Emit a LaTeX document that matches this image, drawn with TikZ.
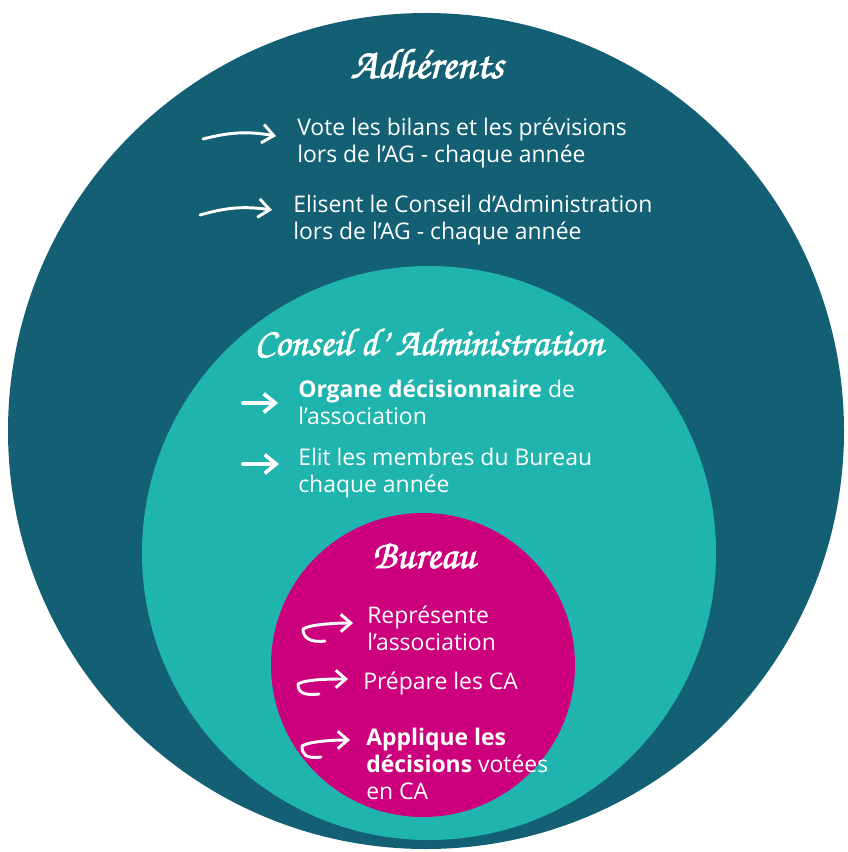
\documentclass[tikz,border=0pt]{standalone}
\usepackage{fontspec}
\setmainfont{Open Sans}
\newfontfamily\titlefont[FakeBold=2]{texgyrechorus-mediumitalic.otf}
\usepackage{tikz}
\usetikzlibrary{arrows.meta,positioning}
\definecolor{adhblue}{RGB}{19,96,116}
\definecolor{cateal}{RGB}{32,180,174}
\definecolor{burpink}{RGB}{204,0,124}

\begin{document}
\begin{tikzpicture}[x=0.75pt, y={(0pt,-0.75pt)},
    ring/.style={circle, inner sep=0pt},
    title/.style={anchor=base, text=white, font=\titlefont\fontsize{32}{36}\selectfont},
    item/.style={anchor=north west, inner sep=0pt, align=left, text=white,
      font=\fontsize{17.2}{20}\selectfont},
    longarr/.style={draw=white, line width=2.2pt, line cap=round, line join=round,
      -{Straight Barb[length=8.5pt,width=14pt]}},
    shortarr/.style={longarr, line width=2.8pt},
    hookarr/.style={longarr, -{Straight Barb[length=7.5pt,width=13pt]}}]
   \useasboundingbox (0,0) rectangle (848,852);
   % the three circles
   \node[ring, fill=adhblue, minimum size=627pt] (adh) at (426,431) {};
   \node[ring, fill=cateal, minimum size=430.5pt] (ca) at (429,553) {};
   \node[ring, fill=burpink, minimum size=228pt] (bur) at (423,665) {};

   % titles
   \node[title] (tadh) at (427,78) {Adhérents};
   \node[title, font=\titlefont\fontsize{29}{34}\selectfont] (tca) at (429,355) {Conseil d’ Administration};
   \node[title, font=\titlefont\fontsize{30}{34}\selectfont] (tbur) at (424,568) {Bureau};

   % Adherents
   \node[item] (a1) at (297,118) {Vote les bilans et les prévisions\\lors de l’AG - chaque année};
   \node[item] (a2) at (293,195) {Elisent le Conseil d’Administration\\lors de l’AG - chaque année};
   \draw[longarr] ([shift={(-94,21)}]a1.north west) to[bend left=12] ([shift={(-21,18)}]a1.north west);
   \draw[longarr] ([shift={(-93,20)}]a2.north west) to[bend left=12] ([shift={(-21,15)}]a2.north west);

   % Conseil d'Administration
   \node[item] (c1) at (298,380) {\textbf{Organe décisionnaire} de\\l’association};
   \node[item] (c2) at (298,448) {Elit les membres du Bureau\\chaque année};
   \draw[shortarr] ([shift={(-55,23)}]c1.north west) -- ([shift={(-20,23)}]c1.north west);
   \draw[shortarr] ([shift={(-55,16)}]c2.north west) -- ([shift={(-19,16)}]c2.north west);

   % Bureau
   \node[item] (b1) at (367,606) {Représente\\l’association};
   \node[item] (b2) at (363,672) {Prépare les CA};
   \node[item] (b3) at (366,728) {\textbf{Applique les}\\\textbf{décisions} votées\\en CA};
   \draw[hookarr] ([shift={(-42,35)}]b1.north west) .. controls +(-16,2) and +(0,8) .. ([shift={(-64,23)}]b1.north west)
      .. controls +(8,-5) and +(-15,0) .. ([shift={(-14,17)}]b1.north west);
   \draw[hookarr] ([shift={(-44,22)}]b2.north west) .. controls +(-16,2) and +(0,8) .. ([shift={(-65,12)}]b2.north west)
      .. controls +(8,-5) and +(-15,0) .. ([shift={(-15,7)}]b2.north west);
   \draw[hookarr] ([shift={(-45,29)}]b3.north west) .. controls +(-16,2) and +(0,8) .. ([shift={(-64,18)}]b3.north west)
      .. controls +(8,-5) and +(-15,0) .. ([shift={(-16,12)}]b3.north west);
\end{tikzpicture}
\end{document}
